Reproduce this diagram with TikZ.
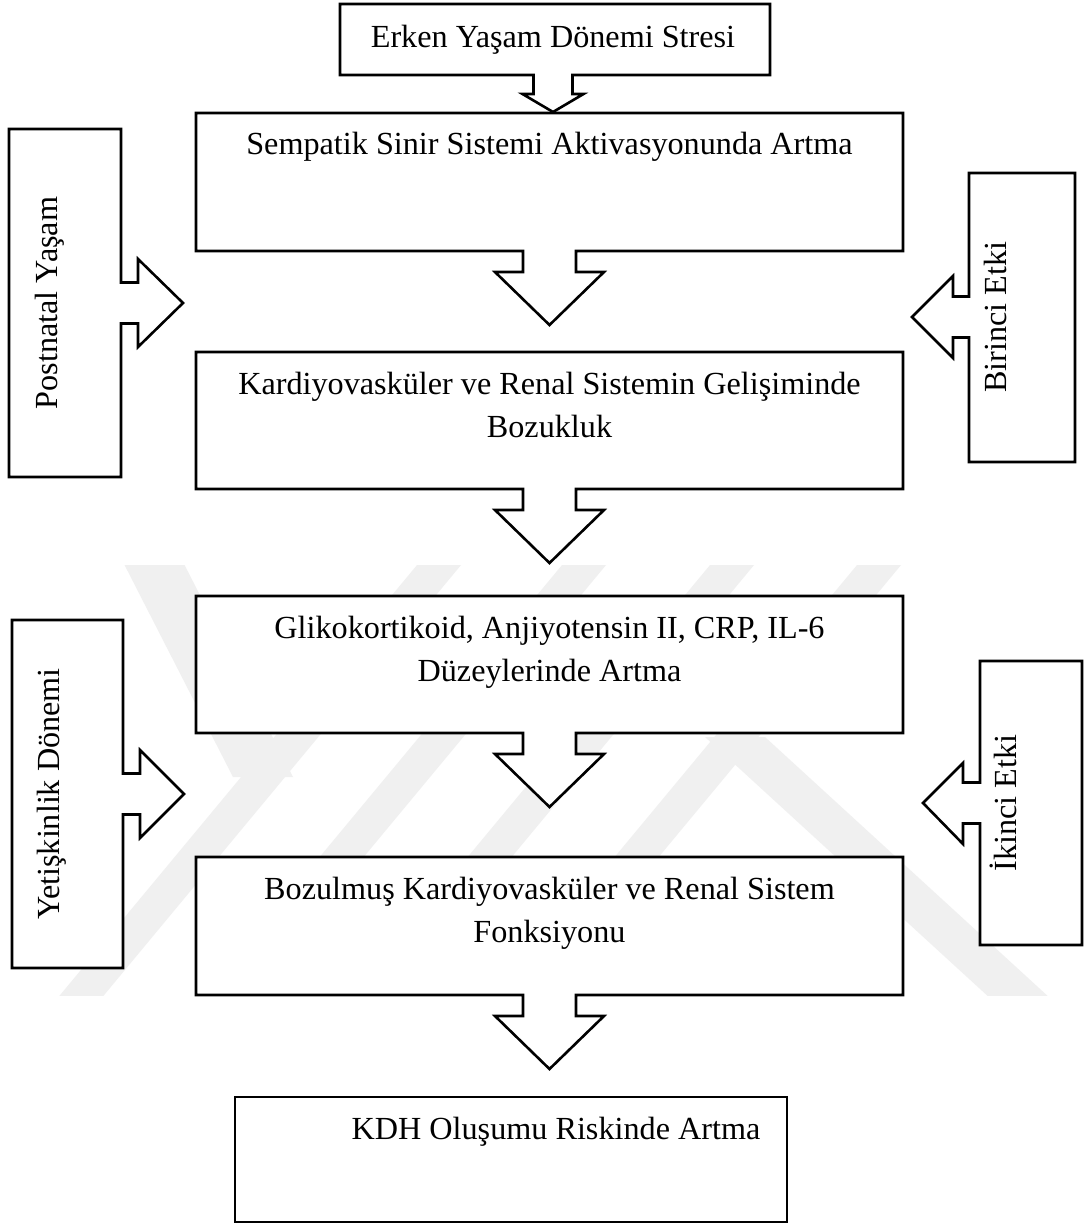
\documentclass[tikz,border=0pt]{standalone}
\usepackage{fontspec}
\setmainfont{Liberation Serif}
\begin{document}
\begin{tikzpicture}[x=0.5pt,y=-0.5pt,
  outline/.style={draw=black, fill=white, line width=1.3pt, line join=miter},
  wmark/.style={fill=black!6, draw=none},
  lbl/.style={inner sep=0pt, font=\fontsize{16.1pt}{21.5pt}\selectfont, align=center},
  vlbl/.style={lbl, rotate=90}]
\useasboundingbox (0,0) rectangle (1084,1225);
\fill[white] (0,0) rectangle (1084,1225);

% faint background watermark
\begin{scope}
\clip (0,565) rectangle (1084,995);
\foreach \c in {200,345,493,640}{
  \fill[wmark] ({\c-22+0.83*293},560) -- ({\c+22+0.83*293},560)
    -- ({\c+22-0.83*157},1010) -- ({\c-22-0.83*157},1010) -- cycle;
}
\fill[wmark] (122,560) -- (182,560) -- (293,777) -- (233,777) -- cycle;
\fill[wmark] (705,737) -- (765,737) -- (1063,1010) -- (1003,1010) -- cycle;
\end{scope}

% top callout
\draw[outline] (340,4) -- (770,4) -- (770,75) -- (572.5,75) -- (572.5,94) -- (583.5,94) -- (553,112)
  -- (522.5,94) -- (533.5,94) -- (533.5,75) -- (340,75) -- cycle;
\node[lbl, anchor=base] (t0) at (553,48) {Erken Yaşam Dönemi Stresi};

% main column callouts
\foreach \yt/\yb in {113/251, 352/489, 596/733, 857/995}{
  \draw[outline] (196,\yt) -- (903,\yt) -- (903,\yb) -- (576,\yb) -- (576,\yb+21) -- (604,\yb+21)
    -- (549.5,\yb+74) -- (495,\yb+21) -- (523,\yb+21) -- (523,\yb) -- (196,\yb) -- cycle;
}
\node[lbl, anchor=base] (t1) at (549.5,155) {Sempatik Sinir Sistemi Aktivasyonunda Artma};
\node[lbl, anchor=base] (t2) at (549.5,437) {Kardiyovasküler ve Renal Sistemin Gelişiminde\\Bozukluk};
\node[lbl, anchor=base] (t3) at (549.5,681) {Glikokortikoid, Anjiyotensin II, CRP, IL-6\\Düzeylerinde Artma};
\node[lbl, anchor=base] (t4) at (549.5,942) {Bozulmuş Kardiyovasküler ve Renal Sistem\\Fonksiyonu};

% final box
\draw[outline] (235,1097) rectangle (787,1222);
\node[lbl, anchor=base] (t5) at (556,1139) {KDH Oluşumu Riskinde Artma};

% left callouts (arrow to the right)
\draw[outline] (9,129) -- (121,129) -- (121,282.5) -- (138,282.5) -- (138,259) -- (183,303)
  -- (138,347) -- (138,323.5) -- (121,323.5) -- (121,477) -- (9,477) -- cycle;
\node[vlbl] (l1) at (50,303) {Postnatal Yaşam};

\draw[outline] (12,620) -- (123,620) -- (123,773.5) -- (140,773.5) -- (140,750) -- (184,794)
  -- (140,838) -- (140,814.5) -- (123,814.5) -- (123,968) -- (12,968) -- cycle;
\node[vlbl] (l2) at (52,794) {Yetişkinlik Dönemi};

% right callouts (arrow to the left)
\draw[outline] (1075,173) -- (969,173) -- (969,296.5) -- (953,296.5) -- (953,276) -- (912,317)
  -- (953,358) -- (953,337.5) -- (969,337.5) -- (969,462) -- (1075,462) -- cycle;
\node[vlbl] (r1) at (995,317) {Birinci Etki};

\draw[outline] (1082,661) -- (980,661) -- (980,782.5) -- (963,782.5) -- (963,763) -- (923,803)
  -- (963,844) -- (963,823.5) -- (980,823.5) -- (980,945) -- (1082,945) -- cycle;
\node[vlbl] (r2) at (1003,803) {İkinci Etki};
\end{tikzpicture}
\end{document}
